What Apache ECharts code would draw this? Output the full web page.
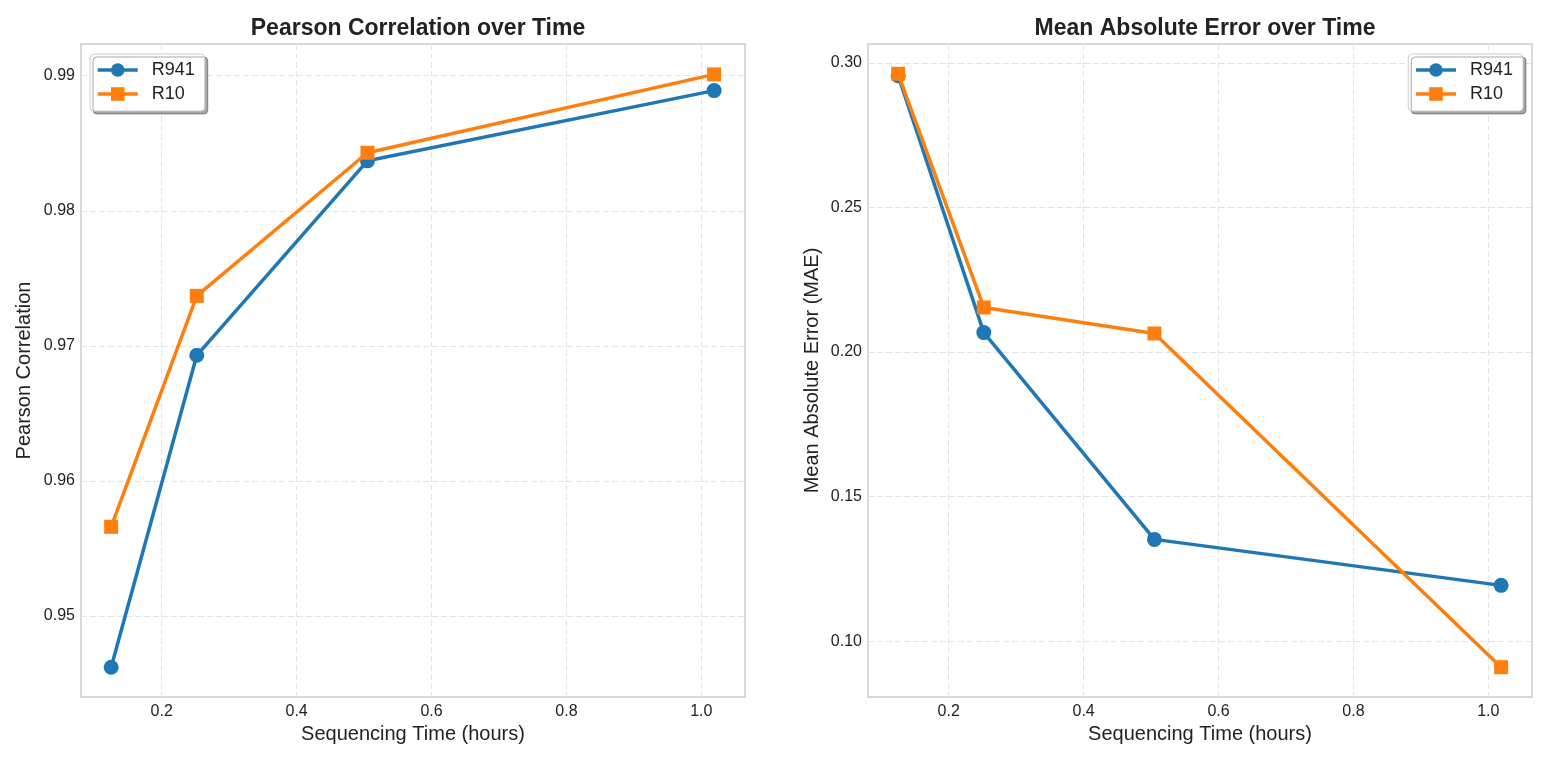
<!DOCTYPE html>
<html><head><meta charset="utf-8">
<script src="https://cdn.jsdelivr.net/npm/echarts@6/dist/echarts.min.js"></script>
<style>html,body{margin:0;padding:0;background:#fff}#c{width:1548px;height:761px}</style>
</head><body><div id="c"></div>
<script>
const seqTime = [0.125, 0.252, 0.505, 1.019];
const pearsonR941 = [0.9462, 0.9693, 0.9837, 0.9889];
const pearsonR10 = [0.9566, 0.9737, 0.9843, 0.9901];
const maeR941 = [0.2955, 0.2067, 0.1352, 0.1193];
const maeR10 = [0.2962, 0.2154, 0.2064, 0.0910];
const xTicks = [0.2, 0.4, 0.6, 0.8, 1.0];
const pearsonTicks = [0.95, 0.96, 0.97, 0.98, 0.99];
const maeTicks = [0.10, 0.15, 0.20, 0.25, 0.30];

const FONT = 'Liberation Sans, Arial, sans-serif';
const C1 = '#1f77b4', C2 = '#ff7f0e';
const pairs = (xs, ys) => xs.map((x, i) => [x, ys[i]]);

function xAxis(idx) {
  return {
    type: 'value', gridIndex: idx, min: 0.0803, max: 1.0648,
    name: 'Sequencing Time (hours)', nameLocation: 'middle', nameGap: 27,
    nameTextStyle: {fontFamily: FONT, fontSize: 20, color: '#222'},
    axisLine: {show: false}, axisTick: {show: false, customValues: xTicks},
    axisLabel: {customValues: xTicks, fontFamily: FONT, fontSize: 16, color: '#222', margin: 7,
      formatter: v => v.toFixed(1)},
    splitLine: {show: true, lineStyle: {color: '#e4e4e4', type: [6, 3], width: 1}}
  };
}
function yAxis(idx, min, max, ticks, name, dec, gap) {
  return {
    type: 'value', gridIndex: idx, min: min, max: max,
    name: name, nameLocation: 'middle', nameGap: gap,
    nameTextStyle: {fontFamily: FONT, fontSize: 20, color: '#222'},
    axisLine: {show: false}, axisTick: {show: false, customValues: ticks},
    axisLabel: {customValues: ticks, fontFamily: FONT, fontSize: 16, color: '#222', margin: 6,
      formatter: v => v.toFixed(dec)},
    splitLine: {show: true, lineStyle: {color: '#e4e4e4', type: [6, 3], width: 1}}
  };
}
function series(name, xi, yi, data, color, symbol, size) {
  return {
    type: 'line', name: name, xAxisIndex: xi, yAxisIndex: yi, data: data,
    symbol: symbol, symbolSize: size, showSymbol: true,
    lineStyle: {color: color, width: 3.5}, itemStyle: {color: color},
    emphasis: {disabled: true}, animation: false, z: name === 'R10' ? 3 : 2
  };
}
function legend(pos) {
  return Object.assign({
    top: 54, orient: 'vertical', itemWidth: 40, itemHeight: 17, itemGap: 6,
    data: ['R941', 'R10'],
    lineStyle: {width: 3.5},
    textStyle: {fontFamily: FONT, fontSize: 18, color: '#222', padding: [0, 0, 0, 9]},
    backgroundColor: '#fff', borderColor: '#cccccc', borderWidth: 1, borderRadius: 4,
    padding: [7, 10, 8, 6],
    shadowColor: 'rgba(0,0,0,0.35)', shadowOffsetX: 3, shadowOffsetY: 3, shadowBlur: 0
  }, pos);
}

const chart = echarts.init(document.getElementById('c'));
chart.setOption({
  animation: false,
  backgroundColor: '#fff',
  title: [
    {text: 'Pearson Correlation over Time', left: 413, top: 12, textAlign: 'center',
     textStyle: {fontFamily: FONT, fontSize: 23, fontWeight: 'bold', color: '#222'}},
    {text: 'Mean Absolute Error over Time', left: 1200, top: 12, textAlign: 'center',
     textStyle: {fontFamily: FONT, fontSize: 23, fontWeight: 'bold', color: '#222'}}
  ],
  grid: [
    {left: 81, right: 803, top: 44, bottom: 64, show: true, borderColor: '#cccccc', borderWidth: 1.5, backgroundColor: 'transparent'},
    {left: 868, right: 16, top: 44, bottom: 64, show: true, borderColor: '#cccccc', borderWidth: 1.5, backgroundColor: 'transparent'}
  ],
  legend: [legend({left: 90}), legend({right: 25})],
  xAxis: [xAxis(0), xAxis(1)],
  yAxis: [
    yAxis(0, 0.9440, 0.99235, pearsonTicks, 'Pearson Correlation', 2, 47),
    yAxis(1, 0.0807, 0.3065, maeTicks, 'Mean Absolute Error (MAE)', 2, 46)
  ],
  series: [
    series('R941', 0, 0, pairs(seqTime, pearsonR941), C1, 'circle', 15),
    series('R10', 0, 0, pairs(seqTime, pearsonR10), C2, 'rect', 14),
    series('R941', 1, 1, pairs(seqTime, maeR941), C1, 'circle', 15),
    series('R10', 1, 1, pairs(seqTime, maeR10), C2, 'rect', 14)
  ]
});
</script></body></html>
